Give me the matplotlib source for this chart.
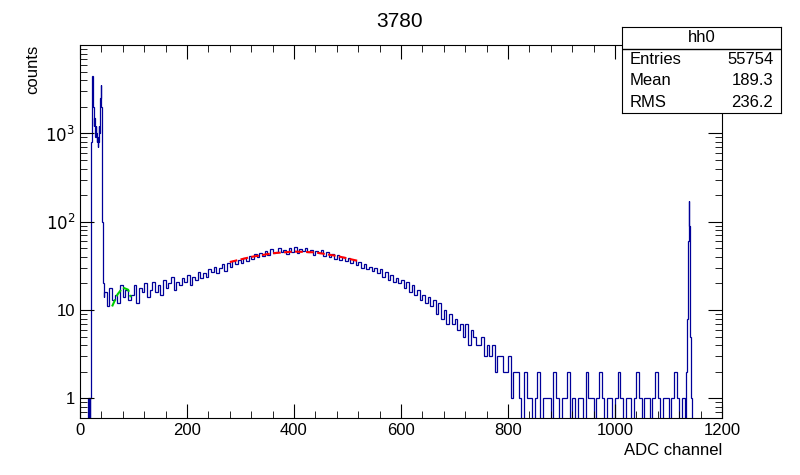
import numpy as np
import matplotlib
matplotlib.use("Agg")
import matplotlib.pyplot as plt
from matplotlib.ticker import FixedLocator, NullFormatter, MultipleLocator

plt.rcParams['font.family'] = 'Liberation Sans'

# low channels, 1 channel per bin, starting at channel 0
low_counts = [0, 0, 0, 0, 0, 0, 0, 0, 0, 0, 0, 0, 0, 0, 0, 1, 0, 1, 0, 1,
              2, 800, 1500, 4500, 3000, 2000, 1200, 1500, 900, 1200,
              1000, 800, 900, 700, 800, 1200, 1000, 1500, 2500, 3500,
              2000, 150, 100, 20, 14]
# body, 5 channels per bin, starting at channel 45
body_counts = [16, 11, 18, 13, 15, 12, 19, 14, 17, 13,
               15, 19, 12, 18, 16, 20, 14, 17, 21, 16,
               19, 15, 22, 18, 20, 24, 17, 21, 19, 23,
               21, 25, 19, 24, 22, 27, 23, 26, 24, 29,
               27, 31, 26, 30, 33, 28, 34, 31, 36, 33,
               37, 34, 39, 36, 41, 38, 43, 40, 44, 41,
               47, 42, 49, 44, 46, 51, 45, 48, 43, 50,
               46, 52, 44, 49, 47, 50, 45, 48, 42, 47,
               44, 48, 41, 45, 40, 43, 38, 42, 37, 40,
               36, 39, 34, 37, 32, 35, 30, 33, 29, 31,
               28, 30, 26, 29, 24, 27, 22, 25, 21, 23,
               20, 22, 18, 21, 16, 19, 15, 17, 13, 15,
               12, 14, 11, 13, 9, 12, 8, 10, 7, 9,
               7, 8, 6, 7, 5, 7, 4, 6, 5, 4,
               4, 5, 3, 4, 3, 4, 2, 3, 3, 2,
               2, 3, 1, 2, 2,
               1, 0, 2, 1, 1, 0, 1, 2, 0, 1, 1, 1, 0, 2, 1, 0, 1, 1, 2, 0,
               1, 0, 1, 1, 0, 2, 1, 1, 0, 1, 2, 1, 0, 1, 1, 0, 1, 2, 1, 0,
               1, 1, 0, 1, 2, 1, 0, 1, 1, 0, 1, 2, 1, 0, 1, 1, 0, 1, 2, 1,
               0, 1]
# high peak, 1 channel per bin
high_start = 1130
high_counts = [1, 0, 1, 2, 3, 8, 25, 60, 170, 90, 30, 5, 1, 0, 0, 0, 0, 0, 0, 0]

red_x = [280, 320, 360, 400, 440, 480, 520]
red_y = [35, 40, 44, 46, 45, 41, 36]
green_x = [60, 70, 80, 90, 95]
green_y = [11, 15, 18, 17, 14]

low_edges = np.arange(0, len(low_counts) + 1)
body_edges = 45 + 5 * np.arange(len(body_counts) + 1)
edges = np.concatenate([low_edges[:-1], body_edges[:-1],
                        np.arange(body_edges[-1], high_start),
                        high_start + np.arange(len(high_counts) + 1)])
gap = [0] * (high_start - body_edges[-1])
counts = np.array(low_counts + body_counts + gap + high_counts, dtype=float)
counts[counts <= 0] = 0.3

fig = plt.figure(figsize=(8, 4.75), dpi=100)
ax = fig.add_axes([0.1, 0.12, 0.8025, 0.785])
ax.stairs(counts, edges, color='#000099', lw=0.9, baseline=None)
ax.plot(red_x, red_y, color='red', ls='--', lw=1.5)
ax.plot(green_x, green_y, color='#00cc00', ls='--', lw=1.5)

ax.set_yscale('log')
ax.set_xlim(0, 1200)
ax.set_ylim(0.6, 10000)
ax.xaxis.set_major_locator(MultipleLocator(200))
ax.xaxis.set_minor_locator(MultipleLocator(40))
ax.set_yticks([1, 10, 100, 1000])
ax.set_yticklabels(['1', '10', r'$10^2$', r'$10^3$'])
ax.yaxis.set_minor_formatter(NullFormatter())
ax.tick_params(which='both', direction='in', top=True, right=True, labelsize=12)
ax.tick_params(which='major', length=10)
ax.tick_params(which='minor', length=5)
ax.set_xlabel('ADC channel', fontsize=12, loc='right')
ax.set_ylabel('counts', fontsize=12, loc='top')
fig.text(0.5, 0.955, '3780', ha='center', va='center', fontsize=15)

# stats box
bx = fig.add_axes([0.7775, 0.762, 0.199, 0.181])
bx.set_xticks([]); bx.set_yticks([])
bx.set_xlim(0, 1); bx.set_ylim(0, 4)
bx.axhline(3, color='black', lw=1)
bx.text(0.5, 3.5, 'hh0', ha='center', va='center', fontsize=12)
for i, (k, v) in enumerate([('Entries', '55754'), ('Mean', '189.3'), ('RMS', '236.2')]):
    bx.text(0.05, 2.5 - i, k, ha='left', va='center', fontsize=12)
    bx.text(0.95, 2.5 - i, v, ha='right', va='center', fontsize=12)

fig.savefig('out.png', dpi=100)
